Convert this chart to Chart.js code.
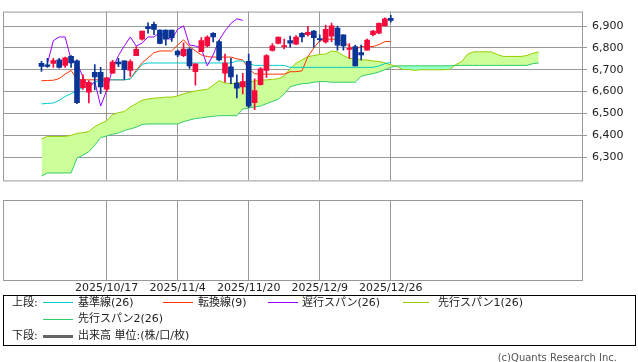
<!DOCTYPE html>
<html>
<head>
<meta charset="utf-8">
<script src="https://cdn.jsdelivr.net/npm/chart.js@4.4.1/dist/chart.umd.min.js"></script>
<style>
  body { margin: 0; background: #fff; }
  #wrap { position: relative; width: 638px; height: 362px; font-family: "DejaVu Sans", "Noto Sans CJK JP", sans-serif; font-size: 11px; color: #222; }
  canvas { position: absolute; left: 0; }
  #mainChart { top: 0; }
  #volChart { top: 195px; }
  .box { position: absolute; left: 3px; top: 295px; width: 631px; height: 49px; border: 1px solid #000; }
  .t { position: absolute; line-height: 13px; white-space: nowrap; }
  .ln { position: absolute; width: 30px; height: 1px; }
  .copy { position: absolute; right: 21px; top: 351px; color: #555; font-family: "DejaVu Sans", sans-serif; font-size: 10px; line-height: 13px; }
</style>
</head>
<body>
<div id="wrap">
  <canvas id="mainChart" width="638" height="192"></canvas>
  <canvas id="volChart" width="638" height="105"></canvas>

  <div class="box"></div>
  <!-- legend row 1 -->
  <div class="t" style="left:12px;top:296px">上段:</div>
  <div class="ln" style="left:43px;top:302px;background:#00cccc"></div>
  <div class="t" style="left:78px;top:296px">基準線(26)</div>
  <div class="ln" style="left:163px;top:302px;background:#ff3300"></div>
  <div class="t" style="left:198px;top:296px">転換線(9)</div>
  <div class="ln" style="left:268px;top:302px;background:#9900ff"></div>
  <div class="t" style="left:302px;top:296px">遅行スパン(26)</div>
  <div class="ln" style="left:403px;top:302px;width:26px;background:#99cc00"></div>
  <div class="t" style="left:438px;top:296px">先行スパン1(26)</div>
  <!-- legend row 2 -->
  <div class="ln" style="left:43px;top:319px;background:#33cc66"></div>
  <div class="t" style="left:78px;top:312px">先行スパン2(26)</div>
  <!-- legend row 3 -->
  <div class="t" style="left:12px;top:329px">下段:</div>
  <div class="ln" style="left:43px;top:335px;height:3px;background:#666"></div>
  <div class="t" style="left:78px;top:329px">出来高 単位:(株/口/枚)</div>

  <div class="copy">(c)Quants Research Inc.</div>
</div>

<script>
// Trading days shown as candles
const dates = [
  '2025/10/2', '2025/10/3', '2025/10/6', '2025/10/7', '2025/10/8', '2025/10/9', '2025/10/10', '2025/10/13', '2025/10/14', '2025/10/15',
  '2025/10/16', '2025/10/17', '2025/10/20', '2025/10/21', '2025/10/22', '2025/10/23', '2025/10/24', '2025/10/27', '2025/10/28', '2025/10/29',
  '2025/10/30', '2025/10/31', '2025/11/3', '2025/11/4', '2025/11/5', '2025/11/6', '2025/11/7', '2025/11/10', '2025/11/11', '2025/11/12',
  '2025/11/13', '2025/11/14', '2025/11/17', '2025/11/18', '2025/11/19', '2025/11/20', '2025/11/21', '2025/11/24', '2025/11/25', '2025/11/26',
  '2025/11/28', '2025/12/1', '2025/12/2', '2025/12/3', '2025/12/4', '2025/12/5', '2025/12/8', '2025/12/9', '2025/12/10', '2025/12/11',
  '2025/12/12', '2025/12/15', '2025/12/16', '2025/12/17', '2025/12/18', '2025/12/19', '2025/12/22', '2025/12/23', '2025/12/24', '2025/12/26'
];

const opens = [6729, 6723, 6729, 6745, 6720, 6762, 6741, 6618, 6598, 6688,
  6688, 6611, 6684, 6735, 6741, 6697, 6765, 6840, 6897, 6908,
  6881, 6881, 6881, 6786, 6765, 6795, 6691, 6783, 6809, 6867,
  6829, 6684, 6713, 6639, 6622, 6738, 6550, 6632, 6697, 6789,
  6820, 6806, 6833, 6817, 6867, 6860, 6877, 6843, 6827, 6854,
  6891, 6860, 6793, 6806, 6779, 6790, 6860, 6867, 6901, 6935];
const highs = [6738, 6752, 6752, 6752, 6758, 6765, 6745, 6677, 6650, 6724,
  6711, 6667, 6743, 6752, 6741, 6745, 6806, 6877, 6915, 6918,
  6883, 6883, 6881, 6790, 6823, 6800, 6727, 6847, 6855, 6870,
  6835, 6772, 6752, 6677, 6684, 6772, 6659, 6710, 6770, 6820,
  6850, 6840, 6854, 6856, 6870, 6899, 6880, 6860, 6904, 6913,
  6900, 6860, 6820, 6813, 6813, 6840, 6880, 6915, 6938, 6949];
const lows = [6692, 6711, 6711, 6707, 6711, 6711, 6545, 6610, 6548, 6609,
  6591, 6600, 6684, 6714, 6656, 6670, 6765, 6835, 6867, 6860,
  6818, 6813, 6830, 6760, 6760, 6706, 6629, 6783, 6805, 6827,
  6740, 6643, 6636, 6571, 6589, 6527, 6518, 6630, 6665, 6785,
  6818, 6795, 6803, 6815, 6827, 6854, 6803, 6830, 6822, 6829,
  6790, 6790, 6752, 6718, 6745, 6790, 6855, 6865, 6901, 6918];
const closes = [6715, 6715, 6742, 6711, 6754, 6731, 6550, 6654, 6643, 6667,
  6622, 6663, 6735, 6727, 6700, 6737, 6793, 6877, 6888, 6885,
  6820, 6840, 6847, 6768, 6795, 6718, 6727, 6833, 6850, 6850,
  6745, 6731, 6667, 6616, 6646, 6534, 6605, 6704, 6765, 6809,
  6850, 6809, 6822, 6850, 6850, 6871, 6847, 6838, 6885, 6901,
  6813, 6809, 6797, 6718, 6768, 6836, 6877, 6912, 6933, 6926];

// 基準線(26)
const kijun = [6544, 6546, 6548, 6560, 6578, 6590, 6605, 6618, 6630, 6643,
  6652, 6654, 6654, 6654, 6654, 6658, 6690, 6725, 6731, 6731,
  6731, 6731, 6731, 6731, 6731, 6731, 6731, 6731, 6731, 6731,
  6731, 6731, 6731, 6740, 6740, 6728, 6720, 6720, 6720, 6720,
  6720, 6720, 6711, 6711, 6711, 6711, 6711, 6711, 6711, 6711,
  6711, 6711, 6711, 6711, 6711, 6711, 6711, 6717, 6728, 6733];
// 転換線(9)
const tenkan = [6650, 6651, 6652, 6660, 6680, 6697, 6656, 6654, 6654, 6654,
  6654, 6654, 6654, 6654, 6654, 6658, 6697, 6731, 6755, 6778,
  6786, 6786, 6786, 6813, 6837, 6806, 6786, 6768, 6760, 6758,
  6758, 6758, 6758, 6750, 6745, 6704, 6682, 6680, 6680, 6680,
  6680, 6680, 6691, 6691, 6695, 6760, 6800, 6833, 6840, 6840,
  6840, 6830, 6806, 6793, 6806, 6806, 6806, 6815, 6829, 6829];
// 遅行スパン(26), drawn from the 2nd slot
const chikou = [null, 6727, 6833, 6850, 6850, 6745, 6731, 6667, 6616, 6646,
  6534, 6605, 6704, 6765, 6809, 6850, 6809, 6822, 6850, 6850,
  6871, 6847, 6838, 6885, 6901, 6813, 6809, 6797, 6718, 6768,
  6836, 6877, 6912, 6933, 6926];
// 先行スパン1(26), runs 25 slots past the last candle
const span1 = [6384, 6395, 6395, 6395, 6395, 6400, 6409, 6412, 6418, 6440,
  6455, 6466, 6495, 6504, 6509, 6530, 6545, 6561, 6566, 6570,
  6572, 6575, 6575, 6580, 6590, 6597, 6603, 6607, 6611, 6629,
  6650, 6640, 6636, 6640, 6643, 6646, 6648, 6652, 6654, 6656,
  6659, 6672, 6705, 6730, 6745, 6760, 6765, 6770, 6772, 6786,
  6782, 6765, 6752, 6750, 6745, 6745, 6740, 6738, 6732, 6722,
  6716, 6701, 6701, 6697, 6700, 6700, 6700, 6700, 6700, 6702,
  6724, 6738, 6772, 6782, 6782, 6782, 6782, 6770, 6761, 6761,
  6761, 6761, 6765, 6775, 6782];
// 先行スパン2(26)
const span2 = [6214, 6228, 6228, 6228, 6228, 6228, 6296, 6309, 6325, 6355,
  6390, 6397, 6405, 6411, 6422, 6430, 6437, 6450, 6452, 6452,
  6452, 6452, 6452, 6452, 6463, 6470, 6477, 6480, 6484, 6487,
  6490, 6490, 6490, 6490, 6520, 6525, 6530, 6534, 6545, 6555,
  6565, 6590, 6622, 6630, 6636, 6638, 6643, 6646, 6646, 6643,
  6643, 6643, 6643, 6643, 6670, 6677, 6682, 6690, 6700, 6711,
  6718, 6718, 6718, 6718, 6718, 6718, 6718, 6718, 6718, 6718,
  6720, 6720, 6720, 6720, 6720, 6720, 6720, 6720, 6720, 6720,
  6720, 6720, 6720, 6728, 6731];

// Candles that get a date label / vertical grid line
const tickIdx = [11, 23, 35, 47, 59];
const yTicks = [6300, 6400, 6500, 6600, 6700, 6800, 6900];

const X_MIN = -6.5, X_MAX = 91.3;
const GRID = '#999999';
const UP = '#f50a3c', DOWN = '#0a3496';

function toXY(arr) {
  return arr.map((v, i) => ({ x: i, y: v })).filter(p => p.y !== null);
}

var candleColors = closes.map((c, i) => c >= opens[i] ? UP : DOWN);
var bodies = opens.map((o, i) => ({ x: i, y: [o, closes[i]] }));
var wicks = lows.map((l, i) => ({ x: i, y: [l, highs[i]] }));

// Border round the plot area
const frame = {
  id: 'frame',
  afterDraw(chart) {
    const a = chart.chartArea, ctx = chart.ctx;
    ctx.save();
    ctx.strokeStyle = GRID;
    ctx.lineWidth = 1;
    ctx.strokeRect(a.left + 0.5, a.top + 0.5, a.right - a.left, a.bottom - a.top);
    ctx.restore();
  }
};

function lineSet(label, data, color, order) {
  return { type: 'line', label: label, data: toXY(data), borderColor: color, borderWidth: 1,
           pointRadius: 0, tension: 0, fill: false, order: order };
}

// shared date axis (no bar offset, grid on the tick)
function dateAxis(extra) {
  return Object.assign({
    type: 'linear', min: X_MIN, max: X_MAX, offset: false,
    afterBuildTicks: s => { s.ticks = tickIdx.map(v => ({ value: v })); },
    grid: { color: GRID, drawTicks: false, offset: false },
    border: { display: false }
  }, extra);
}

var span1Set = lineSet('先行スパン1', span1, '#99cc00', 6);
span1Set.fill = { target: '+1', above: '#ccff99', below: '#99ffcc' };

new Chart(document.getElementById('mainChart'), {
  type: 'bar',
  data: {
    datasets: [
      span1Set,
      lineSet('先行スパン2', span2, '#33cc66', 5),
      lineSet('遅行スパン', chikou, '#9900ff', 3),
      lineSet('基準線', kijun, '#00cccc', 3),
      lineSet('転換線', tenkan, '#ff3300', 3),
      { label: 'wick', data: wicks, backgroundColor: candleColors, barThickness: 1, grouped: false, order: 2 },
      { label: 'body', data: bodies, backgroundColor: candleColors, barThickness: 5, grouped: false, minBarLength: 1, order: 1 }
    ]
  },
  options: {
    responsive: false,
    animation: false,
    layout: { padding: { left: 3, top: 1, right: 0, bottom: 0 } },
    plugins: { legend: { display: false }, tooltip: { enabled: false } },
    scales: {
      x: dateAxis({
        ticks: { display: false },
        afterFit: s => { s.height = 2; }
      }),
      y: {
        position: 'right', min: 6194, max: 6966,
        afterBuildTicks: s => { s.ticks = yTicks.map(v => ({ value: v })); },
        ticks: { color: '#222', padding: 5, font: { family: 'DejaVu Sans', size: 11 },
                 callback: v => v.toLocaleString('en-US') },
        grid: { color: GRID, tickLength: 5 },
        border: { display: false },
        afterFit: s => { s.width = 56; }
      }
    }
  },
  plugins: [frame]
});

// Lower panel (volume) is empty for this index
new Chart(document.getElementById('volChart'), {
  type: 'bar',
  data: { datasets: [] },
  options: {
    responsive: false,
    animation: false,
    layout: { padding: { left: 3, top: 5, right: 0, bottom: 0 } },
    plugins: { legend: { display: false }, tooltip: { enabled: false } },
    scales: {
      x: dateAxis({
        ticks: { color: '#222', padding: 2, autoSkip: false, maxRotation: 0,
                 font: { family: 'DejaVu Sans', size: 11 }, callback: v => dates[v] },
        afterFit: s => { s.height = 20; }
      }),
      y: {
        position: 'right', min: 0, max: 1,
        ticks: { display: false },
        grid: { display: false },
        border: { display: false },
        afterFit: s => { s.width = 56; }
      }
    }
  },
  plugins: [frame]
});
</script>
</body>
</html>
